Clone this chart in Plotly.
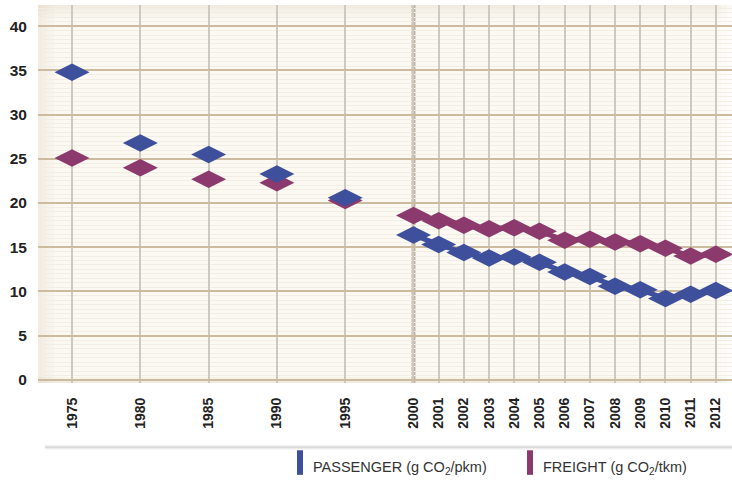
import plotly.graph_objects as go

# CO2 intensity per year
years = [1975, 1980, 1985, 1990, 1995, 2000, 2001, 2002, 2003, 2004, 2005,
         2006, 2007, 2008, 2009, 2010, 2011, 2012]
passenger = [34.8, 26.8, 25.5, 23.3, 20.6, 16.4, 15.3, 14.4, 13.8, 13.9, 13.3,
             12.2, 11.7, 10.6, 10.2, 9.2, 9.7, 10.1]
freight = [25.1, 24.0, 22.7, 22.3, 20.3, 18.6, 18.0, 17.5, 17.1, 17.2, 16.8,
           15.8, 15.9, 15.6, 15.4, 14.9, 14.0, 14.2]
tick_labels = [str(y) for y in years]
series_names = ["PASSENGER (g CO<sub>2</sub>/pkm)", "FREIGHT (g CO<sub>2</sub>/tkm)"]

PASS_COL = "#3e4f9c"
FRT_COL = "#8c3a6e"


def xpos(year):
    # 5-year steps before 2000 are drawn ~2.7 times as wide as one later year
    if year <= 2000:
        return (year - 1975) / 5 * 2.71
    return 5 * 2.71 + (year - 2000)


xs = [xpos(y) for y in years]
annual = [i for i, y in enumerate(years) if y >= 2000]

fig = go.Figure()

for vals, col in [(freight, FRT_COL), (passenger, PASS_COL)]:
    # yearly values from 2000 on are joined into a band
    fig.add_trace(go.Scatter(x=[xs[i] for i in annual], y=[vals[i] for i in annual],
                             mode="lines", showlegend=False, hoverinfo="skip",
                             line=dict(color=col, width=5)))
    fig.add_trace(go.Scatter(x=xs, y=vals, mode="markers", showlegend=False,
                             marker=dict(symbol="diamond-wide", size=25, color=col,
                                         line=dict(width=0))))

shapes = []
# soft edges of the plot panel
for i, op in enumerate([0.28, 0.2, 0.13, 0.07]):
    shapes.append(dict(type="rect", xref="paper", yref="paper", layer="below",
                       x0=i * 0.006, x1=(i + 1) * 0.006, y0=0, y1=1,
                       fillcolor="#d9cdb6", opacity=op, line=dict(width=0)))
for i, op in enumerate([0.3, 0.18, 0.08]):
    shapes.append(dict(type="rect", xref="paper", yref="paper", layer="below",
                       x0=0, x1=1, y0=1 - (i + 1) * 0.012, y1=1 - i * 0.012,
                       fillcolor="#d9cdb6", opacity=op, line=dict(width=0)))
for i, op in enumerate([0.3, 0.15]):
    shapes.append(dict(type="rect", xref="paper", yref="paper", layer="below",
                       x0=0, x1=1, y0=i * 0.008, y1=(i + 1) * 0.008,
                       fillcolor="#d9cdb6", opacity=op, line=dict(width=0)))
# white fade at the right edge
for i, op in enumerate([0.7, 0.45, 0.2]):
    shapes.append(dict(type="rect", xref="paper", yref="paper", layer="below",
                       x0=1 - (i + 1) * 0.008, x1=1 - i * 0.008, y0=0, y1=1,
                       fillcolor="white", opacity=op, line=dict(width=0)))
# darker divider at 2000
shapes.append(dict(type="line", xref="x", yref="paper", layer="between",
                   x0=xpos(2000), x1=xpos(2000), y0=0, y1=1,
                   line=dict(color="#bdb3a3", width=4)))
# shadow line under the tick labels
for w, op in [(5, 0.10), (2, 0.28)]:
    shapes.append(dict(type="line", xref="paper", yref="paper",
                       x0=0.01, x1=1, y0=-0.170, y1=-0.170,
                       line=dict(color="#9a9a9a", width=w), opacity=op))

# legend keys (rounded bars) and labels
annotations = []
for name, col, x_px in [(series_names[0], PASS_COL, 300), (series_names[1], FRT_COL, 530)]:
    shapes.append(dict(type="line", xref="paper", yref="paper",
                       x0=(x_px - 38) / 694, x1=(x_px - 38) / 694,
                       y0=-0.178, y1=-0.243, line=dict(color=col, width=6)))
    annotations.append(dict(xref="paper", yref="paper", x=(x_px + 11 - 38) / 694,
                            y=-0.225, xanchor="left", yanchor="middle", showarrow=False,
                            text=name, font=dict(size=14.5, color="#333")))

fig.update_layout(
    width=732, height=482,
    margin=dict(l=38, r=0, t=5, b=99),
    paper_bgcolor="white",
    plot_bgcolor="#fcf9f2",
    font=dict(family="Liberation Sans, Arial, sans-serif", color="#222"),
    shapes=shapes,
    annotations=annotations,
    showlegend=False,
)
fig.update_xaxes(
    range=[-1.35, 26.19], tickvals=xs, ticktext=tick_labels, tickangle=-90,
    tickfont=dict(size=14, weight="bold", color="#222"),
    showgrid=True, gridcolor="#cdc9c1", gridwidth=1.5,
    ticks="outside", ticklen=8, tickcolor="rgba(0,0,0,0)",
    zeroline=False, showline=False, automargin=False,
)
fig.update_yaxes(
    range=[-0.35, 42.4], tickvals=[0, 5, 10, 15, 20, 25, 30, 35, 40],
    tickfont=dict(size=15.5, weight="bold", color="#222"),
    showgrid=True, gridcolor="#cdbb9f", gridwidth=2,
    minor=dict(dtick=0.5, showgrid=True, gridcolor="#f2eee5", gridwidth=1),
    ticks="outside", ticklen=7, tickcolor="rgba(0,0,0,0)",
    zeroline=False, showline=False, automargin=False,
)

# the page's default body margin would push the figure 8px off the window
fig.write_html("out.html", config={"displayModeBar": False},
               post_script="document.body.style.margin = '0px';")
